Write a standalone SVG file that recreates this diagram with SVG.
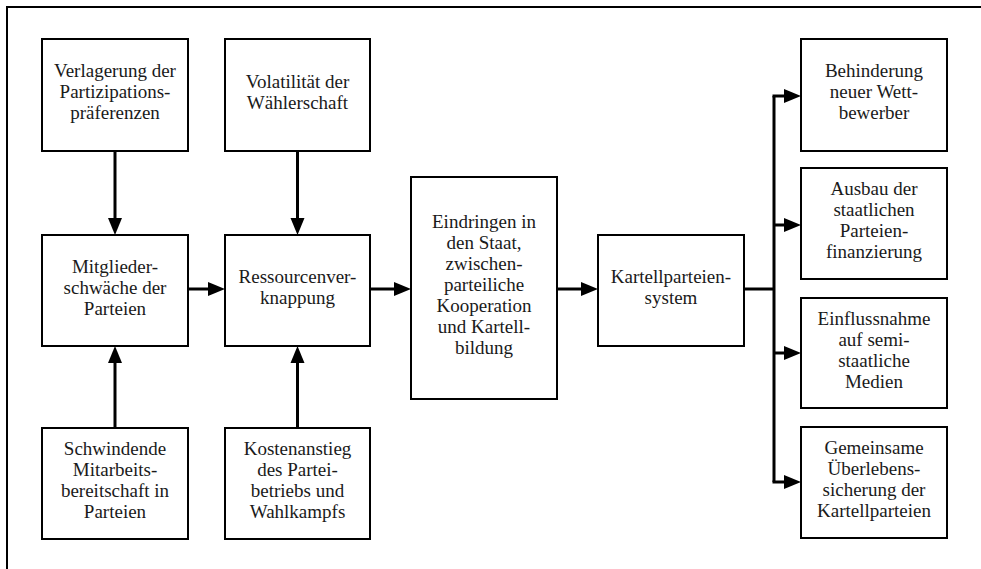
<svg xmlns="http://www.w3.org/2000/svg" width="981" height="569" viewBox="0 0 981 569">
<style>
.box{fill:#fff;stroke:#000;stroke-width:2}
.t{font-family:"Liberation Serif","Times New Roman",serif;font-size:19px;fill:#1a1a1a;text-anchor:middle}
.c{fill:none;stroke:#000;stroke-width:3}
.a{marker-end:url(#ah)}
</style>
<defs>
<marker id="ah" markerUnits="userSpaceOnUse" markerWidth="18" markerHeight="16" refX="0" refY="7" orient="auto" overflow="visible">
<path d="M0,0 L17,7 L0,14 Z" fill="#000"/>
</marker>
</defs>
<rect width="981" height="569" fill="#fff"/>
<path d="M7,569 L7,7 L981,7" fill="none" stroke="#000" stroke-width="2"/>

<g id="connectors">
<path class="c a" d="M115,151 V218"/>
<path class="c a" d="M297.5,151 V218"/>
<path class="c a" d="M115,428 V363"/>
<path class="c a" d="M297.5,428 V363"/>
<path class="c a" d="M188,289 H208"/>
<path class="c a" d="M370,289 H394"/>
<path class="c a" d="M557,289 H581"/>
<path class="c" d="M744,289 H774"/>
<path class="c" d="M774,96 V482"/>
<path class="c a" d="M772.5,96 H784"/>
<path class="c a" d="M774,225 H784"/>
<path class="c a" d="M774,353 H784"/>
<path class="c a" d="M772.5,482 H784"/>
</g>

<g id="n-verlagerung">
<rect class="box" x="42" y="39" width="146" height="112"/>
<text class="t" x="115" y="77">Verlagerung der</text>
<text class="t" x="115" y="98">Partizipations-</text>
<text class="t" x="115" y="119">präferenzen</text>
</g>
<g id="n-volatilitaet">
<rect class="box" x="225" y="39" width="145" height="112"/>
<text class="t" x="297.5" y="87.5">Volatilität der</text>
<text class="t" x="297.5" y="108.5">Wählerschaft</text>
</g>
<g id="n-mitglieder">
<rect class="box" x="42" y="235" width="146" height="111"/>
<text class="t" x="115" y="272.5">Mitglieder-</text>
<text class="t" x="115" y="293.5">schwäche der</text>
<text class="t" x="115" y="314.5">Parteien</text>
</g>
<g id="n-ressourcen">
<rect class="box" x="225" y="235" width="145" height="111"/>
<text class="t" x="297.5" y="283">Ressourcenver-</text>
<text class="t" x="297.5" y="304">knappung</text>
</g>
<g id="n-schwindende">
<rect class="box" x="42" y="428" width="146" height="111"/>
<text class="t" x="115" y="455">Schwindende</text>
<text class="t" x="115" y="476">Mitarbeits-</text>
<text class="t" x="115" y="497">bereitschaft in</text>
<text class="t" x="115" y="518">Parteien</text>
</g>
<g id="n-kosten">
<rect class="box" x="225" y="428" width="145" height="111"/>
<text class="t" x="297.5" y="455">Kostenanstieg</text>
<text class="t" x="297.5" y="476">des Partei-</text>
<text class="t" x="297.5" y="497">betriebs und</text>
<text class="t" x="297.5" y="518">Wahlkampfs</text>
</g>
<g id="n-eindringen">
<rect class="box" x="411" y="177" width="146" height="222"/>
<text class="t" x="484" y="228">Eindringen in</text>
<text class="t" x="484" y="249">den Staat,</text>
<text class="t" x="484" y="270">zwischen-</text>
<text class="t" x="484" y="291">parteiliche</text>
<text class="t" x="484" y="312">Kooperation</text>
<text class="t" x="484" y="333">und Kartell-</text>
<text class="t" x="484" y="354">bildung</text>
</g>
<g id="n-kartell">
<rect class="box" x="598" y="235" width="146" height="111"/>
<text class="t" x="671" y="283">Kartellparteien-</text>
<text class="t" x="671" y="304">system</text>
</g>
<g id="n-behinderung">
<rect class="box" x="801" y="39" width="146" height="112"/>
<text class="t" x="874" y="77">Behinderung</text>
<text class="t" x="874" y="98">neuer Wett-</text>
<text class="t" x="874" y="119">bewerber</text>
</g>
<g id="n-ausbau">
<rect class="box" x="801" y="168" width="146" height="111"/>
<text class="t" x="874" y="195">Ausbau der</text>
<text class="t" x="874" y="216">staatlichen</text>
<text class="t" x="874" y="237">Parteien-</text>
<text class="t" x="874" y="258">finanzierung</text>
</g>
<g id="n-einfluss">
<rect class="box" x="801" y="298" width="146" height="110"/>
<text class="t" x="874" y="324.5">Einflussnahme</text>
<text class="t" x="874" y="345.5">auf semi-</text>
<text class="t" x="874" y="366.5">staatliche</text>
<text class="t" x="874" y="387.5">Medien</text>
</g>
<g id="n-gemeinsam">
<rect class="box" x="801" y="427" width="146" height="111"/>
<text class="t" x="874" y="454">Gemeinsame</text>
<text class="t" x="874" y="475">Überlebens-</text>
<text class="t" x="874" y="496">sicherung der</text>
<text class="t" x="874" y="517">Kartellparteien</text>
</g>
</svg>
